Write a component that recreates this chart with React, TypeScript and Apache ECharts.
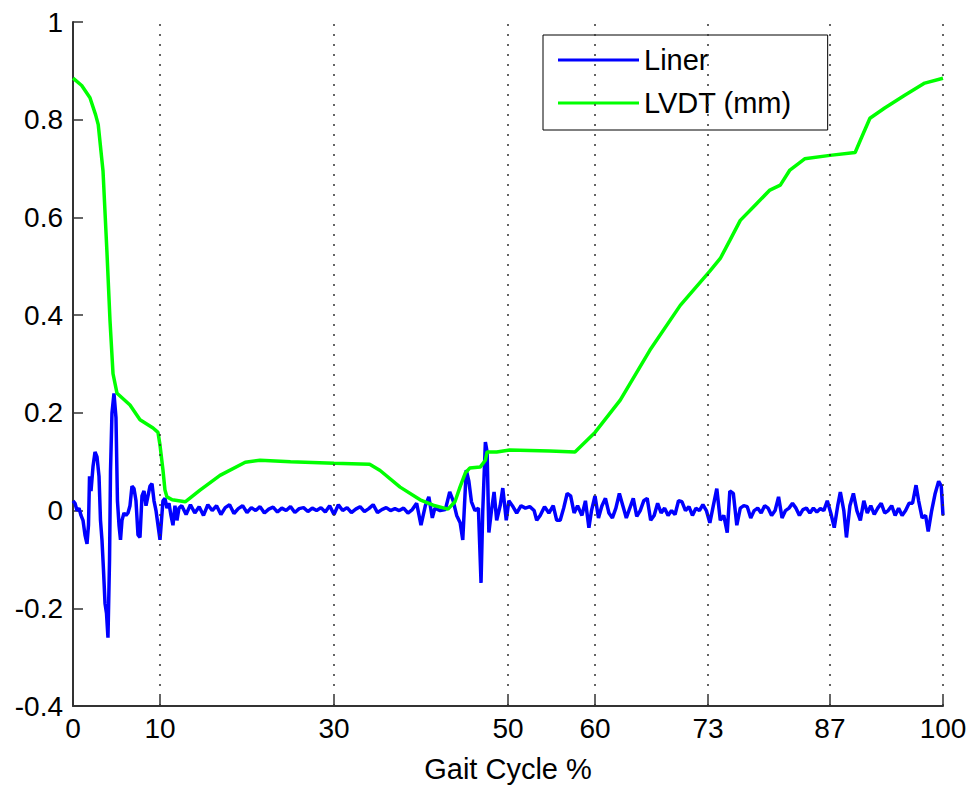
import React, { useEffect, useRef } from "react";
import * as echarts from "echarts";

// Gait cycle tick positions (%)
const xTicks = [0, 10, 30, 50, 60, 73, 87, 100];

// Liner signal: [gait cycle %, value]
const linerData: [number, number][] = [
  [0, 0.02], [0.23, 0.015], [0.46, 0.0], [0.69, 0.005], [0.92, -0.01], [1.15, -0.02],
  [1.38, -0.05], [1.61, -0.068], [1.78, -0.03], [1.9, 0.07], [2.07, 0.04], [2.3, 0.09],
  [2.53, 0.12], [2.76, 0.11], [2.99, 0.07], [3.16, -0.02], [3.33, -0.06], [3.5, -0.12],
  [3.68, -0.19], [3.85, -0.21], [4.02, -0.26], [4.2, -0.1], [4.31, 0.08], [4.48, 0.2],
  [4.71, 0.24], [4.94, 0.19], [5.11, 0.02], [5.29, -0.03], [5.46, -0.06], [5.63, -0.02],
  [5.86, -0.005], [6.09, -0.01], [6.32, -0.005], [6.55, 0.01], [6.78, 0.05], [7.01, 0.045],
  [7.24, 0.02], [7.47, -0.05], [7.7, -0.055], [7.93, 0.03], [8.16, 0.04], [8.39, 0.01],
  [8.62, 0.03], [8.85, 0.05], [9.08, 0.055], [9.31, 0.02], [9.54, 0.0], [9.77, -0.03],
  [10.0, -0.06], [10.17, -0.02], [10.34, 0.02], [10.57, 0.025], [10.8, 0.005], [11.03, 0.015],
  [11.26, -0.01], [11.49, -0.03], [11.72, 0.01], [11.95, -0.02], [12.18, 0.005],
  [12.5, 0.01], [13, -0.008], [13.5, 0.012], [14, -0.005], [14.5, 0.008], [15, -0.01],
  [15.5, 0.012], [16, 0.0], [16.5, 0.01], [17, -0.008], [17.5, 0.006], [18, 0.012],
  [18.5, -0.006], [19, 0.004], [19.5, 0.01], [20, -0.004], [20.5, 0.006], [21, 0.0],
  [21.5, 0.008], [22, -0.005], [22.5, 0.003], [23, 0.007], [23.5, -0.003], [24, 0.005],
  [24.5, 0.0], [25, 0.008], [25.5, -0.004], [26, 0.004], [26.5, 0.006], [27, -0.002],
  [27.5, 0.005], [28, 0.0], [28.5, 0.006], [29, -0.003], [29.5, 0.01], [30, -0.008],
  [30.5, 0.012], [31, 0.0], [31.5, 0.006], [32, -0.004], [32.5, 0.003], [33, 0.008],
  [33.5, -0.002], [34, 0.004], [34.5, 0.012], [35, -0.004], [35.5, 0.002], [36, 0.006],
  [36.5, 0.0], [37, 0.004], [37.5, 0.0],
  [38.0, 0.005], [38.5, -0.005], [39.0, 0.002], [39.5, 0.015], [40.0, -0.03], [40.5, 0.01],
  [40.9, 0.028], [41.3, -0.015], [41.6, 0.005], [42.2, 0.0], [42.8, 0.002], [43.3, 0.038],
  [43.7, 0.02], [44.1, -0.01], [44.5, -0.025], [44.8, -0.06], [45.2, 0.083], [45.5, 0.06],
  [45.8, 0.018], [46.2, 0.0], [46.6, 0.005], [46.9, -0.148], [47.1, 0.0], [47.4, 0.14],
  [47.6, 0.12], [47.8, -0.045], [48.1, 0.0], [48.4, 0.038], [48.7, -0.02], [49.1, 0.01],
  [49.4, 0.046], [49.8, -0.02], [50.1, 0.02],
  [50.5, 0.01], [51.0, -0.005], [51.5, 0.01], [52.0, 0.005], [52.5, 0.008], [53.0, 0.0],
  [53.3, -0.02], [53.7, -0.01], [54.2, 0.008], [54.7, -0.005], [55.2, 0.01], [55.6, -0.02],
  [56.0, -0.02], [56.4, 0.005], [56.8, 0.035], [57.2, 0.03], [57.6, -0.005], [58.0, 0.01],
  [58.5, -0.01], [58.9, 0.02], [59.3, -0.035], [59.6, 0.0], [60.0, 0.03], [60.4, -0.015],
  [60.8, 0.01], [61.2, 0.025], [61.6, -0.005], [62.0, -0.015], [62.4, 0.005], [62.8, 0.035],
  [63.2, 0.01], [63.6, -0.015], [64.0, 0.005], [64.4, 0.025], [64.8, -0.012], [65.2, 0.0],
  [65.6, 0.02], [66.0, 0.025], [66.4, -0.02], [66.8, -0.01], [67.2, 0.015], [67.6, -0.005],
  [68.0, 0.005], [68.4, -0.01], [68.8, 0.0], [69.2, -0.008], [69.6, 0.02], [70.0, 0.018],
  [70.4, 0.0], [70.8, 0.008], [71.2, -0.01], [71.6, 0.005], [72.0, 0.0], [72.4, 0.012],
  [72.8, 0.0], [73.2, -0.025], [73.6, 0.01], [74.0, 0.045], [74.4, -0.02], [74.8, -0.01],
  [75.2, -0.045], [75.5, 0.04],
  [75.9, 0.035], [76.3, -0.03], [76.7, 0.005], [77.1, 0.01], [77.5, 0.008], [77.9, -0.015],
  [78.3, 0.0], [78.7, 0.005], [79.1, -0.005], [79.5, 0.01], [79.9, 0.005], [80.3, -0.01],
  [80.7, 0.0], [81.1, 0.028], [81.5, -0.015], [81.9, 0.0], [82.3, 0.005], [82.7, 0.015],
  [83.1, 0.005], [83.5, -0.01], [83.9, 0.002], [84.3, 0.005], [84.7, -0.005], [85.1, 0.005],
  [85.5, -0.003], [85.9, 0.004], [86.3, 0.0], [86.7, 0.02], [87.1, -0.005], [87.5, -0.035],
  [87.9, 0.01], [88.2, 0.038], [88.6, 0.0], [88.9, -0.055], [89.3, 0.01], [89.7, 0.035],
  [90.1, 0.0], [90.5, -0.02], [90.9, 0.02], [91.3, -0.005], [91.7, 0.01], [92.1, -0.008],
  [92.5, 0.005], [92.9, 0.015], [93.3, -0.005], [93.7, 0.0], [94.1, 0.01], [94.5, -0.01],
  [94.9, 0.005], [95.3, -0.01], [95.7, 0.0], [96.1, 0.015], [96.5, 0.015], [96.9, 0.052],
  [97.2, 0.02], [97.6, -0.015], [98.0, -0.01], [98.3, -0.043], [98.7, 0.0], [99.1, 0.035],
  [99.5, 0.06], [99.8, 0.05], [100, -0.01],
];

// LVDT displacement (mm): [gait cycle %, value]
const lvdtData: [number, number][] = [
  [0, 0.885], [1.0, 0.87], [1.95, 0.845], [2.6, 0.81], [2.9, 0.79], [3.45, 0.695],
  [3.9, 0.53], [4.25, 0.39], [4.6, 0.28], [5.06, 0.24], [6.55, 0.216], [7.7, 0.186],
  [9.2, 0.169], [9.77, 0.16], [10.0, 0.134], [10.34, 0.083], [10.57, 0.042], [10.8, 0.028],
  [11.4, 0.022], [12.9, 0.018], [14.6, 0.042], [16.9, 0.072], [19.8, 0.099], [21.5, 0.103],
  [25, 0.1], [30, 0.097], [34.1, 0.095], [35.3, 0.082], [37.6, 0.048], [39.9, 0.022],
  [41.4, 0.011], [43.1, 0.003], [43.9, 0.018], [44.5, 0.049], [45.1, 0.077], [45.6, 0.087],
  [46.8, 0.089], [47.4, 0.103], [47.6, 0.12], [48.7, 0.12], [50.2, 0.124], [54.8, 0.122],
  [57.7, 0.12], [60, 0.16], [62.9, 0.226], [66.3, 0.328], [69.8, 0.42], [73.2, 0.49],
  [74.4, 0.516], [75.5, 0.553], [76.7, 0.594], [78.4, 0.625], [80.1, 0.656], [81.3, 0.666],
  [82.4, 0.697], [84.1, 0.72], [87, 0.727], [89.9, 0.733], [90.5, 0.758], [91.6, 0.803],
  [93.3, 0.824], [95.6, 0.85], [97.9, 0.875], [100, 0.885],
];

const FONT = "'Liberation Sans', Arial, Helvetica, sans-serif";

export default function App() {
  const ref = useRef<HTMLDivElement>(null);

  useEffect(() => {
    if (!ref.current) return;
    const chart = echarts.init(ref.current, null, { renderer: "svg" });
    const axisColor = "#333333";
    chart.setOption({
      animation: false,
      backgroundColor: "#ffffff",
      textStyle: { fontFamily: FONT },
      grid: { left: 73, right: 31, top: 22, bottom: 84, containLabel: false },
      legend: {
        left: 543,
        top: 35,
        orient: "vertical",
        icon: "rect",
        backgroundColor: "#ffffff",
        borderColor: "#000000",
        borderWidth: 1,
        borderRadius: 0,
        padding: [10, 36, 12, 15],
        itemGap: 13,
        itemWidth: 81,
        itemHeight: 3,
        textStyle: { fontSize: 29, color: "#000", fontFamily: FONT, lineHeight: 30 },
        data: ["Liner", "LVDT (mm)"],
      },
      xAxis: {
        type: "value",
        min: 0,
        max: 100,
        name: "Gait Cycle %",
        nameLocation: "middle",
        nameGap: 48,
        nameTextStyle: { fontSize: 29, color: "#000", fontFamily: FONT },
        axisLine: { show: true, onZero: false, lineStyle: { color: axisColor, width: 2 } },
        axisTick: { show: true, inside: true, length: 10, customValues: xTicks, lineStyle: { color: axisColor, width: 1.5 } },
        axisLabel: { show: true, margin: 8, fontSize: 28, color: "#000", fontFamily: FONT, customValues: xTicks },
        splitLine: { show: false },
      },
      yAxis: {
        type: "value",
        min: -0.4,
        max: 1,
        interval: 0.2,
        axisLine: { show: true, onZero: false, lineStyle: { color: axisColor, width: 2 } },
        axisTick: { show: true, inside: true, length: 10, lineStyle: { color: axisColor, width: 1.5 } },
        axisLabel: { show: true, margin: 10, fontSize: 28, color: "#000", fontFamily: FONT },
        splitLine: { show: false },
      },
      series: [
        {
          name: "Liner",
          type: "line",
          data: linerData,
          symbol: "none",
          lineStyle: { color: "#0000ff", width: 3.5 },
          itemStyle: { color: "#0000ff" },
          z: 2,
          markLine: {
            silent: true,
            symbol: ["none", "none"],
            label: { show: false },
            lineStyle: { color: "#333333", type: [2, 8], width: 1.5 },
            data: xTicks.filter((v) => v > 0).map((v) => ({ xAxis: v })),
          },
        },
        {
          name: "LVDT (mm)",
          type: "line",
          data: lvdtData,
          symbol: "none",
          lineStyle: { color: "#00ff00", width: 3.5 },
          itemStyle: { color: "#00ff00" },
          z: 3,
        },
      ],
    });
    return () => chart.dispose();
  }, []);

  return (
    <div
      ref={ref}
      style={{ position: "fixed", left: 0, top: 0, width: 974, height: 790 }}
    />
  );
}
